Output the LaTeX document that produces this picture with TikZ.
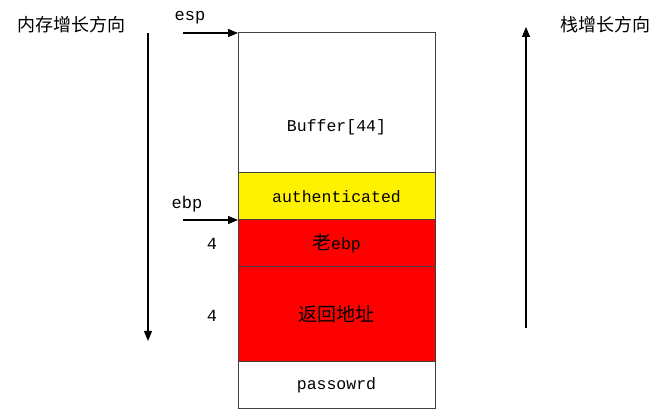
\documentclass[tikz,border=0pt]{standalone}
\usepackage{fontspec}
\setmainfont{Liberation Serif}
\setmonofont{Liberation Mono}
\newfontfamily\cjk{Noto Sans CJK SC}
\usetikzlibrary{arrows.meta}
\tikzset{
  cell/.style={draw=black!75,line width=1pt,minimum width=197pt,inner sep=0pt,outer sep=0pt,
    font=\fontsize{16.5}{16.5}\selectfont\ttfamily},
  lbl/.style={font=\fontsize{17}{17}\selectfont\ttfamily},
  title/.style={font=\fontsize{18}{18}\selectfont\cjk},
  ptr/.style={line width=1.2pt,-{Triangle[length=10pt,width=8pt]}},
}
\begin{document}
\begin{tikzpicture}[x=1pt,y=-1pt]
  \useasboundingbox (0,0) rectangle (667,411);
  % stack cells
  \node[cell,minimum height=140pt] (buf) at (336.5,103) {};
  \node[cell,draw=none] (buftext) at (336.5,127) {Buffer[44]};
  \node[cell,fill=yellow,minimum height=47pt] (auth) at (336.5,196.5) {authenticated};
  \node[cell,fill=red,minimum height=47pt] (oldebp) at (336.5,243.5) {{\cjk\fontsize{19}{19}\selectfont 老}ebp};
  \node[cell,fill=red,minimum height=95pt] (ret) at (336.5,314.5) {{\cjk\fontsize{19}{19}\selectfont 返回地址}};
  \node[cell,minimum height=47pt] (pass) at (336.5,385.5) {passowrd};
  % pointers
  \coordinate (espfrom) at (183,33);
  \coordinate (ebpfrom) at (183,220);
  \node[lbl] (esp) at (190,18) {esp};
  \node[lbl] (ebp) at (187,204) {ebp};
  \draw[ptr] (espfrom) -- (buf.north west);
  \draw[ptr] (ebpfrom) -- (oldebp.north west);
  \node[lbl] (four1) at (212,244) {4};
  \node[lbl] (four2) at (212,316) {4};
  % growth directions
  \node[title] (memdir) at (71,25) {内存增长方向};
  \node[title] (stackdir) at (605,25) {栈增长方向};
  \coordinate (memtop) at (148,33);
  \coordinate (membot) at (148,341);
  \coordinate (stkbot) at (526,328);
  \coordinate (stktop) at (526,27);
  \draw[ptr] (memtop) -- (membot);
  \draw[ptr] (stkbot) -- (stktop);
\end{tikzpicture}
\end{document}
